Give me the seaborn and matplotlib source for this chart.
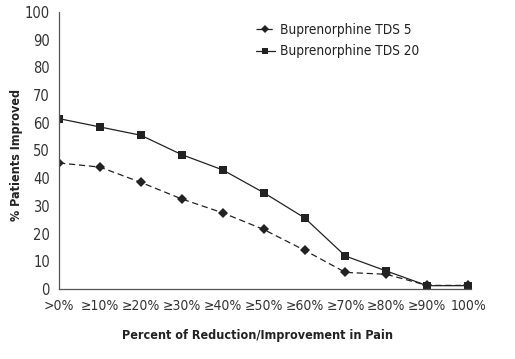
import matplotlib
matplotlib.use("Agg")
import matplotlib.pyplot as plt
import pandas as pd
import seaborn as sns

categories = [">0%", "≥10%", "≥20%", "≥30%", "≥40%", "≥50%",
              "≥60%", "≥70%", "≥80%", "≥90%", "100%"]
tds5 = [45.5, 44, 38.5, 32.5, 27.5, 21.5, 14, 6, 5.3, 1.3, 1.3]
tds20 = [61.5, 58.5, 55.5, 48.5, 43, 34.8, 25.7, 11.9, 6.5, 1.2, 1.2]

sns.set_style("white")
plt.rcParams["font.family"] = ["DejaVu Sans"]
plt.rcParams["font.stretch"] = "condensed"

df = pd.DataFrame({
    "pos": list(range(len(categories))) * 2,
    "value": tds5 + tds20,
    "series": ["Buprenorphine TDS 5"] * len(tds5) + ["Buprenorphine TDS 20"] * len(tds20),
})

fig = plt.figure(figsize=(5.15, 3.59), dpi=100)
ax = fig.add_axes([0.1146, 0.195, 0.80, 0.7716])

sns.lineplot(data=df, x="pos", y="value", hue="series", style="series",
             palette=["#222222", "#222222"],
             dashes={"Buprenorphine TDS 5": (5, 3), "Buprenorphine TDS 20": ""},
             markers={"Buprenorphine TDS 5": "D", "Buprenorphine TDS 20": "s"},
             markersize=5.5, linewidth=0.9, markeredgewidth=0, ax=ax)

ax.set_xlim(0, 10.07)
ax.set_ylim(0, 100)
ax.set_xticks(range(len(categories)))
ax.set_xticklabels(categories, fontsize=10, color="#333333")
ax.set_yticks(range(0, 101, 10))
ax.set_yticklabels([str(v) for v in range(0, 101, 10)], fontsize=10.5, color="#333333")
ax.tick_params(axis="x", direction="in", length=5, color="#555555", pad=7)
ax.tick_params(axis="y", direction="out", length=5, color="#555555", pad=1.5)

for side in ["top", "right"]:
    ax.spines[side].set_visible(False)
for side in ["left", "bottom"]:
    ax.spines[side].set_color("#555555")
    ax.spines[side].set_linewidth(0.9)

ax.set_xlabel("Percent of Reduction/Improvement in Pain", fontsize=9,
              fontweight="bold", color="#222222")
ax.set_ylabel("% Patients Improved", fontsize=9, fontweight="bold",
              color="#222222")
ax.xaxis.set_label_coords(0.482, -0.146)
ax.yaxis.set_label_coords(-0.087, 0.485)

leg = ax.legend(loc="upper left", bbox_to_anchor=(0.464, 0.98), frameon=False,
                fontsize=9.8, handlelength=1.4, handletextpad=0.4,
                labelspacing=0.55, borderaxespad=0, markerscale=0.7)
for t in leg.get_texts():
    t.set_color("#222222")

fig.savefig("out.png", dpi=100)
